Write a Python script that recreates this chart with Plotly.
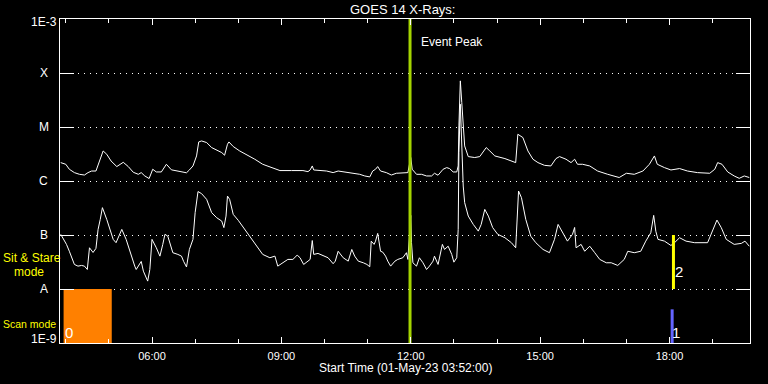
import math
import plotly.graph_objects as go

DATE = "2023-05-01 "

# GOES 14 long channel (1-8 A), values in units of 1e-6 W/m^2
long_time = ["03:53","04:00","04:05","04:12","04:19","04:26","04:31","04:36","04:42","04:46",
             "04:52","04:57","05:03","05:11","05:20","05:27","05:34","05:41","05:45","05:50",
             "05:56","06:01","06:06","06:13","06:20","06:27","06:35","06:48","06:52","06:57",
             "07:02","07:05","07:09","07:16","07:23","07:30","07:37","07:41","07:45","07:47",
             "07:53","08:02","08:11","08:23","08:34","08:46","08:58","09:14","09:30","09:37",
             "09:40","09:43","09:45","10:03","10:12","10:19","10:28","10:38","10:49","10:56",
             "11:03","11:07","11:11","11:14","11:18","11:26","11:33","11:40","11:49","11:56",
             "12:00","12:02","12:08","12:15","12:22","12:29","12:33","12:38","12:45","12:50",
             "12:54","12:59","13:04","13:06","13:07","13:09","13:11","13:13","13:15","13:20",
             "13:29","13:36","13:41","13:45","13:50","13:57","14:11","14:25","14:26","14:29",
             "14:36","14:43","14:50","14:57","15:06","15:15","15:22","15:27","15:36","15:43",
             "15:48","15:52","15:59","16:09","16:20","16:34","16:50","17:00","17:11","17:23",
             "17:32","17:39","17:43","17:53","18:02","18:14","18:25","18:39","18:56","19:03",
             "19:07","19:13","19:21","19:30","19:37","19:44","19:51"]
long_flux_e6 = [2.19,2.04,1.65,1.43,1.33,1.29,1.43,1.53,1.53,2.19,
                3.60,3.13,2.35,1.85,2.22,1.85,1.45,1.33,1.43,1.24,
                1.11,1.65,1.47,1.47,2.04,1.61,1.53,1.42,1.60,1.90,
                2.91,5.29,5.52,5.15,4.16,3.71,3.36,3.00,4.79,5.29,
                4.35,3.60,3.13,2.53,2.04,1.77,1.56,1.56,1.56,1.49,
                1.60,1.90,1.60,1.53,1.43,1.53,1.47,1.43,1.33,1.24,
                1.19,1.53,1.65,1.85,1.53,1.43,1.29,1.39,1.42,1.43,
                2.72,1.65,1.33,1.33,1.24,1.24,1.39,1.28,1.65,1.77,
                1.70,1.47,1.47,1.90,10.5,71.5,28.4,12.1,4.46,2.83,
                2.72,2.83,3.60,4.16,3.60,2.91,2.60,2.25,2.19,7.34,
                6.38,3.60,2.53,2.19,1.95,1.90,2.60,2.83,2.53,2.19,
                2.53,2.04,2.04,1.90,1.53,1.33,1.16,1.39,1.33,1.53,
                2.04,2.91,2.04,1.77,1.60,1.70,1.53,1.43,1.39,1.65,
                2.19,2.04,1.47,1.24,1.12,1.24,1.16]

# GOES 14 short channel (0.5-4 A), values in units of 1e-7 W/m^2
short_time = ["03:53","04:01","04:05","04:10","04:12","04:17","04:22","04:26","04:30","04:33",
              "04:38","04:42","04:45","04:48","04:51","04:57","05:01","05:06","05:10","05:15",
              "05:18","05:24","05:31","05:36","05:38","05:45","05:48","05:50","05:54","05:57",
              "06:00","06:06","06:11","06:15","06:18","06:22","06:26","06:29","06:36","06:41",
              "06:44","06:48","06:52","06:57","07:00","07:04","07:09","07:16","07:23","07:30",
              "07:37","07:40","07:43","07:45","07:48","07:53","08:00","08:09","08:16","08:25",
              "08:34","08:44","08:51","08:55","09:02","09:09","09:16","09:22","09:26","09:31",
              "09:37","09:40","09:43","09:45","09:51","09:58","10:05","10:12","10:15","10:19",
              "10:26","10:33","10:38","10:42","10:47","10:54","10:59","11:03","11:05","11:09",
              "11:11","11:14","11:18","11:21","11:25","11:28","11:32","11:38","11:42","11:49",
              "11:54","11:56","12:00","12:01","12:03","12:08","12:12","12:17","12:22","12:26",
              "12:31","12:33","12:38","12:44","12:47","12:52","12:57","13:00","13:04","13:06",
              "13:07","13:09","13:11","13:13","13:15","13:20","13:27","13:34","13:38","13:43",
              "13:48","13:54","14:01","14:11","14:20","14:26","14:30","14:34","14:40","14:47",
              "14:54","15:04","15:13","15:20","15:25","15:32","15:38","15:45","15:48","15:50",
              "15:57","16:02","16:09","16:16","16:23","16:32","16:39","16:48","16:54","16:57",
              "17:02","17:11","17:20","17:27","17:34","17:38","17:41","17:44","17:53","18:02",
              "18:07","18:14","18:23","18:35","18:53","19:00","19:06","19:12","19:19","19:30",
              "19:40","19:45","19:51"]
short_flux_e7 = [1.03,0.67,0.50,0.353,0.285,0.265,0.273,0.265,0.230,0.58,
                 0.475,0.565,1.27,1.95,3.21,1.95,1.27,0.83,0.72,1.03,
                 1.27,0.83,0.406,0.265,0.23,0.324,0.214,0.186,0.140,0.23,
                 0.83,0.58,0.406,0.67,1.03,0.95,0.67,0.47,0.437,0.406,
                 0.324,0.256,0.54,0.83,2.59,6.38,5.83,4.57,2.59,2.09,
                 1.81,1.37,2.24,5.26,4.57,2.41,1.87,1.27,0.95,0.67,
                 0.437,0.379,0.406,0.265,0.306,0.353,0.353,0.424,0.379,0.285,
                 0.328,0.353,0.79,0.437,0.456,0.418,0.379,0.294,0.328,0.50,
                 0.379,0.328,0.54,0.406,0.328,0.306,0.285,0.258,0.77,0.67,
                 0.77,1.07,0.50,0.482,0.406,0.328,0.265,0.328,0.353,0.379,
                 0.47,0.353,2.31,0.73,0.306,0.265,0.379,0.306,0.23,0.265,
                 0.328,0.406,0.285,0.67,0.54,0.62,0.437,0.314,0.379,1.27,
                 33.6,264.0,59.3,8.07,3.97,2.24,1.57,1.18,1.57,2.98,
                 2.24,1.37,1.03,0.89,0.72,0.58,6.52,4.92,1.95,0.95,
                 0.72,0.54,0.47,0.83,1.57,1.10,0.77,1.03,1.38,0.58,
                 0.67,0.50,0.62,0.47,0.353,0.306,0.306,0.273,0.324,0.353,
                 0.50,0.47,0.50,0.77,1.10,2.31,1.17,0.83,0.77,0.64,
                 0.72,0.89,0.77,0.72,0.72,1.18,1.89,1.37,0.83,0.67,
                 0.70,0.77,0.62]

# y-axis decades and their labels
decades = [1e-9, 1e-8, 1e-7, 1e-6, 1e-5, 1e-4, 1e-3]
decade_labels = ["1E-9", "A", "B", "C", "M", "X", "1E-3"]

# mode / event markers
event_peak_time = "11:59"
scan_block = ["03:57", "05:04"]          # orange scan-mode block (1E-9 .. A)
sit_stare_bar_time = "18:05:30"          # yellow bar (A .. B)
scan_bar_time = "18:03:40"               # blue bar
scan_bar_top = 4.2e-9

long_flux = [v * 1e-6 for v in long_flux_e6]
short_flux = [v * 1e-7 for v in short_flux_e7]

fig = go.Figure()

# orange scan block
fig.add_trace(go.Scatter(
    x=[DATE + scan_block[0], DATE + scan_block[1], DATE + scan_block[1], DATE + scan_block[0], DATE + scan_block[0]],
    y=[1e-9, 1e-9, 1e-8, 1e-8, 1e-9],
    mode="lines", fill="toself", fillcolor="#ff8000", line=dict(color="#ff8000", width=0),
    hoverinfo="skip"))

fig.add_trace(go.Scatter(x=[DATE + t for t in long_time], y=long_flux, mode="lines",
                         line=dict(color="white", width=1)))
fig.add_trace(go.Scatter(x=[DATE + t for t in short_time], y=short_flux, mode="lines",
                         line=dict(color="white", width=1)))

# event peak line
fig.add_trace(go.Scatter(x=[DATE + event_peak_time] * 2, y=[1e-9, 1e-3], mode="lines",
                         line=dict(color="#a4d400", width=3)))
# yellow sit & stare bar
fig.add_trace(go.Scatter(x=[DATE + sit_stare_bar_time] * 2, y=[1e-8, 1e-7], mode="lines",
                         line=dict(color="#ffff00", width=3)))
# blue scan bar
fig.add_trace(go.Scatter(x=[DATE + scan_bar_time] * 2, y=[1e-9, scan_bar_top], mode="lines",
                         line=dict(color="#6464ff", width=3)))

font_family = "Liberation Sans"
ann = []
# y labels
for v, lab in zip(decades, decade_labels):
    lv = math.log10(v)
    if lab == "1E-3":
        lv = -3.06
    elif lab == "1E-9":
        lv = -8.93
    ann.append(dict(x=-0.0232, xref="paper", y=lv, yref="y", text=lab, showarrow=False,
                    xanchor="center", yanchor="middle", font=dict(size=12, color="white"),
                    borderpad=0))

ann += [
    dict(x=0.496, xref="paper", y=1.029, yref="paper", text="GOES 14 X-Rays:", showarrow=False,
         xanchor="center", yanchor="middle", font=dict(size=13, color="white")),
    dict(x=0.5, xref="paper", y=-0.0772, yref="paper", text="Start Time (01-May-23 03:52:00)",
         showarrow=False, xanchor="center", yanchor="middle", font=dict(size=12, color="white")),
    dict(x=DATE + "12:12", xref="x", y=-3.43, yref="y", text="Event Peak", showarrow=False,
         xanchor="left", yanchor="middle", font=dict(size=12, color="white")),
    dict(x=-0.0841, xref="paper", y=0.2623, yref="paper", text="Sit & Stare", showarrow=False,
         xanchor="left", yanchor="middle", font=dict(size=12, color="#ffff00"), borderpad=0),
    dict(x=-0.0681, xref="paper", y=0.2192, yref="paper", text="mode", showarrow=False,
         xanchor="left", yanchor="middle", font=dict(size=12, color="#ffff00"), borderpad=0),
    dict(x=-0.0841, xref="paper", y=0.0586, yref="paper", text="Scan mode", showarrow=False,
         xanchor="left", yanchor="middle", font=dict(size=10.5, color="#ffff00"), borderpad=0),
    dict(x=DATE + "04:04", xref="x", y=-8.80, yref="y", text="0", showarrow=False,
         xanchor="center", yanchor="middle", font=dict(size=15, color="white"), borderpad=0),
    dict(x=DATE + "18:09", xref="x", y=-8.80, yref="y", text="1", showarrow=False,
         xanchor="center", yanchor="middle", font=dict(size=15, color="white"), borderpad=0),
    dict(x=DATE + "18:13", xref="x", y=-7.68, yref="y", text="2", showarrow=False,
         xanchor="center", yanchor="middle", font=dict(size=15, color="white"), borderpad=0),
]

fig.update_layout(
    width=768, height=384,
    margin=dict(l=60, r=18, t=19, b=41),
    paper_bgcolor="black", plot_bgcolor="black",
    showlegend=False,
    font=dict(family=font_family, color="white", size=12),
    annotations=ann,
)

fig.update_xaxes(
    type="date", range=[DATE + "03:52", DATE + "19:52"],
    showline=True, linecolor="white", linewidth=1, mirror="ticks",
    ticks="inside", ticklen=6, tickcolor="white", tickwidth=1,
    tick0=DATE + "00:00", dtick=3 * 3600000, tickformat="%H:%M",
    tickfont=dict(size=11, color="white"), ticklabelstandoff=3,
    showgrid=False, zeroline=False,
    minor=dict(dtick=3600000, ticks="inside", ticklen=4, tickcolor="white", showgrid=False),
)
fig.update_yaxes(
    type="log", range=[-9, -3],
    showline=True, linecolor="white", linewidth=1, mirror="ticks",
    ticks="inside", ticklen=14, tickcolor="white", tickwidth=1,
    tickvals=decades, showticklabels=False,
    showgrid=True, gridcolor="white", gridwidth=1, griddash="1px,5px",
    zeroline=False,
)

fig.write_html("out.html")
